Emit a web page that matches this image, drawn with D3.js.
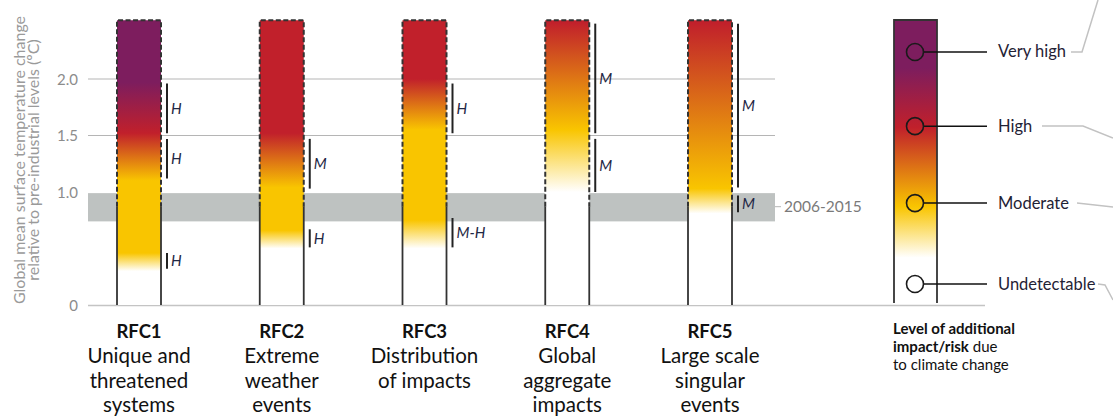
<!DOCTYPE html>
<html>
<head>
<meta charset="utf-8">
<script src="https://cdn.jsdelivr.net/npm/d3@7"></script>
<style>
  body { margin: 0; background: #fff; }
  svg { font-family: Lato, "Open Sans", sans-serif; }
</style>
</head>
<body>
<div id="chart"></div>
<script>
//data
var rfcIds = ['RFC1', 'RFC2', 'RFC3', 'RFC4', 'RFC5'];
var rfcNames = [
  ['Unique and', 'threatened', 'systems'],
  ['Extreme', 'weather', 'events'],
  ['Distribution', 'of impacts'],
  ['Global', 'aggregate', 'impacts'],
  ['Large scale', 'singular', 'events']
];

// colour stops per RFC: [temperature, level]  (0 undetectable, 1 moderate, 2 high, 3 very high)
var rfcStops = [
  [[0.30, 0], [0.46, 1], [1.10, 1], [1.52, 2], [1.97, 3]],
  [[0.50, 0], [0.66, 1], [1.04, 1], [1.52, 2]],
  [[0.50, 0], [0.75, 1], [1.55, 1], [2.00, 2]],
  [[1.00, 0], [1.55, 1], [2.50, 2]],
  [[0.81, 0], [1.03, 1], [2.50, 2]]
];

// confidence brackets per RFC: [from, to, label]
var rfcConfidence = [
  [[1.52, 1.96, 'H'], [1.12, 1.47, 'H'], [0.32, 0.46, 'H']],
  [[1.03, 1.47, 'M'], [0.51, 0.67, 'H']],
  [[1.52, 1.96, 'H'], [0.51, 0.77, 'M-H']],
  [[1.52, 2.49, 'M'], [1.00, 1.47, 'M']],
  [[1.04, 2.49, 'M'], [0.82, 0.97, 'M']]
];

var yTicks = [0, 1.0, 1.5, 2.0];
var gridTicks = [1.5, 2.0];
var barTop = 2.52;
var currentWarming = 0.87;
var obsRange = [0.74, 0.99];
var obsLabel = '2006-2015';

var levelNames = ['Undetectable', 'Moderate', 'High', 'Very high'];
var levelColors = ['#ffffff', '#f9c500', '#c1202b', '#7d1d5e'];
// legend bar stops: [fraction of bar height, level]
var legendStops = [[0.16, 0], [0.34, 1], [0.62, 2], [0.83, 3]];
var legendMarks = [0.067, 0.353, 0.625, 0.887];

//dims
var width = 1113;
var height = 420;

var svg = d3.select('#chart')
  .append('svg')
  .attr('width', width)
  .attr('height', height);

var defs = svg.append('defs');

var y = d3.scaleLinear().domain([0, 2.5]).range([305, 22.5]);
var x = d3.scalePoint().domain(rfcIds).range([139, 710]);
var barW = 44;
var plotLeft = 88, plotRight = 775;

//background band and gridlines
svg.append('rect')
  .attr('x', plotLeft)
  .attr('y', y(obsRange[1]))
  .attr('width', plotRight - plotLeft)
  .attr('height', y(obsRange[0]) - y(obsRange[1]))
  .attr('fill', '#bec2c1');

svg.selectAll('.grid')
  .data(gridTicks)
  .enter()
  .append('line')
  .attr('x1', plotLeft).attr('x2', plotRight)
  .attr('y1', function(d) { return y(d); })
  .attr('y2', function(d) { return y(d); })
  .attr('stroke', '#b5b5b5')
  .attr('stroke-width', 1.2);

svg.append('line')
  .attr('x1', plotLeft).attr('x2', 985)
  .attr('y1', y(0) + 0.5).attr('y2', y(0) + 0.5)
  .attr('stroke', '#c4c4c4')
  .attr('stroke-width', 1.5);

//tick labels
svg.selectAll('.tick')
  .data(yTicks)
  .enter()
  .append('text')
  .attr('x', 78)
  .attr('y', function(d) { return y(d) + 5.5; })
  .attr('text-anchor', 'end')
  .attr('fill', '#8c8c8c')
  .style('font-size', '15px')
  .text(function(d) { return d === 0 ? '0' : d.toFixed(1); });

//axis title
var title = svg.append('text')
  .attr('transform', 'translate(0,160) rotate(-90)')
  .attr('text-anchor', 'middle')
  .attr('fill', '#9a9a9a')
  .style('font-size', '16px');
title.append('tspan').attr('x', 0).attr('y', 25).text('Global mean surface temperature change');
title.append('tspan').attr('x', 0).attr('y', 39).text('relative to pre-industrial levels (ºC)');

//band label
svg.append('line')
  .attr('x1', plotRight).attr('x2', 781)
  .attr('y1', y(0.87)).attr('y2', y(0.87))
  .attr('stroke', '#b5b5b5');
svg.append('text')
  .attr('x', 784)
  .attr('y', y(0.87) + 5.5)
  .attr('fill', '#7a7a7a')
  .style('font-size', '15.5px')
  .text(obsLabel);

function color(level) { return levelColors[level]; }

//gradients for each RFC
rfcIds.forEach(function(id, i) {
  var g = defs.append('linearGradient')
    .attr('id', 'grad' + i)
    .attr('gradientUnits', 'userSpaceOnUse')
    .attr('x1', 0).attr('x2', 0)
    .attr('y1', y(0)).attr('y2', y(barTop));
  g.selectAll('stop')
    .data(rfcStops[i])
    .enter()
    .append('stop')
    .attr('offset', function(d) { return d[0] / barTop; })
    .attr('stop-color', function(d) { return color(d[1]); });
});

var bars = svg.selectAll('.rfc')
  .data(rfcIds)
  .enter()
  .append('g')
  .attr('class', 'rfc')
  .attr('transform', function(d) { return 'translate(' + (x(d) - barW / 2) + ',0)'; });

bars.append('rect')
  .attr('x', 0)
  .attr('y', y(barTop))
  .attr('width', barW)
  .attr('height', y(0) - y(barTop))
  .attr('fill', function(d, i) { return 'url(#grad' + i + ')'; });

// dashed outline above current warming, solid below
bars.append('path')
  .attr('d', 'M0,' + y(currentWarming) + 'V' + y(barTop) + 'H' + barW + 'V' + y(currentWarming))
  .attr('fill', 'none')
  .attr('stroke', '#333')
  .attr('stroke-width', 2)
  .attr('stroke-dasharray', '5,2.5');

bars.selectAll('.solid')
  .data([0, barW])
  .enter()
  .append('line')
  .attr('x1', function(d) { return d; })
  .attr('x2', function(d) { return d; })
  .attr('y1', y(currentWarming))
  .attr('y2', y(0))
  .attr('stroke', '#333')
  .attr('stroke-width', 1.8);

//confidence brackets
bars.each(function(id, i) {
  var g = d3.select(this);
  var conf = g.selectAll('.conf')
    .data(rfcConfidence[i])
    .enter()
    .append('g');
  conf.append('line')
    .attr('x1', barW + 6).attr('x2', barW + 6)
    .attr('y1', function(d) { return y(d[1]); })
    .attr('y2', function(d) { return y(d[0]); })
    .attr('stroke', '#222')
    .attr('stroke-width', 2);
  conf.append('text')
    .attr('x', barW + 10)
    .attr('y', function(d) { return (y(d[0]) + y(d[1])) / 2 + 5.5; })
    .attr('fill', '#1f2845')
    .style('font-size', '15px')
    .style('font-style', 'italic')
    .text(function(d) { return d[2]; });
});

//bottom labels
var labels = svg.selectAll('.lab')
  .data(rfcIds)
  .enter()
  .append('text')
  .attr('text-anchor', 'middle')
  .attr('fill', '#111')
  .style('font-size', '20.5px');
labels.append('tspan')
  .attr('x', function(d) { return x(d); })
  .attr('y', 338)
  .style('font-weight', 'bold')
  .style('font-size', '18.5px')
  .text(function(d) { return d; });
labels.each(function(id, i) {
  var t = d3.select(this);
  rfcNames[i].forEach(function(line, j) {
    t.append('tspan')
      .attr('x', x(id))
      .attr('y', 363 + j * 24.5)
      .text(line);
  });
});

//legend
var ly = d3.scaleLinear().domain([0, 1]).range([303, 20]);
var lx = 894, lw = 43;

var lg = defs.append('linearGradient')
  .attr('id', 'legendGrad')
  .attr('gradientUnits', 'userSpaceOnUse')
  .attr('x1', 0).attr('x2', 0)
  .attr('y1', ly(0)).attr('y2', ly(1));
lg.selectAll('stop')
  .data(legendStops)
  .enter()
  .append('stop')
  .attr('offset', function(d) { return d[0]; })
  .attr('stop-color', function(d) { return color(d[1]); });

svg.append('rect')
  .attr('x', lx).attr('y', ly(1))
  .attr('width', lw).attr('height', ly(0) - ly(1))
  .attr('fill', 'url(#legendGrad)');
svg.append('path')
  .attr('d', 'M' + lx + ',' + ly(0) + 'V' + ly(1) + 'H' + (lx + lw) + 'V' + ly(0))
  .attr('fill', 'none')
  .attr('stroke', '#333')
  .attr('stroke-width', 1.8);

var marks = svg.selectAll('.mark')
  .data(legendMarks)
  .enter()
  .append('g');
marks.append('line')
  .attr('x1', 924).attr('x2', 987)
  .attr('y1', function(d) { return ly(d); })
  .attr('y2', function(d) { return ly(d); })
  .attr('stroke', '#111')
  .attr('stroke-width', 1.5);
marks.append('circle')
  .attr('cx', 915)
  .attr('cy', function(d) { return ly(d); })
  .attr('r', 8.5)
  .attr('fill', function(d, i) { return i === 0 ? '#fff' : 'none'; })
  .attr('stroke', '#1a1a1a')
  .attr('stroke-width', 1.6);
marks.append('text')
  .attr('x', 998)
  .attr('y', function(d) { return ly(d) + 5.5; })
  .attr('fill', '#1f2235')
  .style('font-size', '16.5px')
  .text(function(d, i) { return levelNames[i]; });

// leader lines running off the right edge
var leaders = [
  [[1071, 52], [1082, 52], [1098, 0]],
  [[1042, 126], [1083, 126], [1113, 138]],
  [[1077, 203], [1113, 207]],
  [[1098, 284], [1105, 285], [1113, 300]]
];
svg.selectAll('.leader')
  .data(leaders)
  .enter()
  .append('path')
  .attr('d', d3.line())
  .attr('fill', 'none')
  .attr('stroke', '#c2c2c2')
  .attr('stroke-width', 1.5);

var cap = svg.append('text')
  .attr('fill', '#111')
  .style('font-size', '15px');
cap.append('tspan').attr('x', 893).attr('y', 334).style('font-weight', 'bold').text('Level of additional');
cap.append('tspan').attr('x', 893).attr('y', 352).style('font-weight', 'bold').text('impact/risk');
cap.append('tspan').text(' due');
cap.append('tspan').attr('x', 893).attr('y', 370).text('to climate change');
</script>
</body>
</html>
